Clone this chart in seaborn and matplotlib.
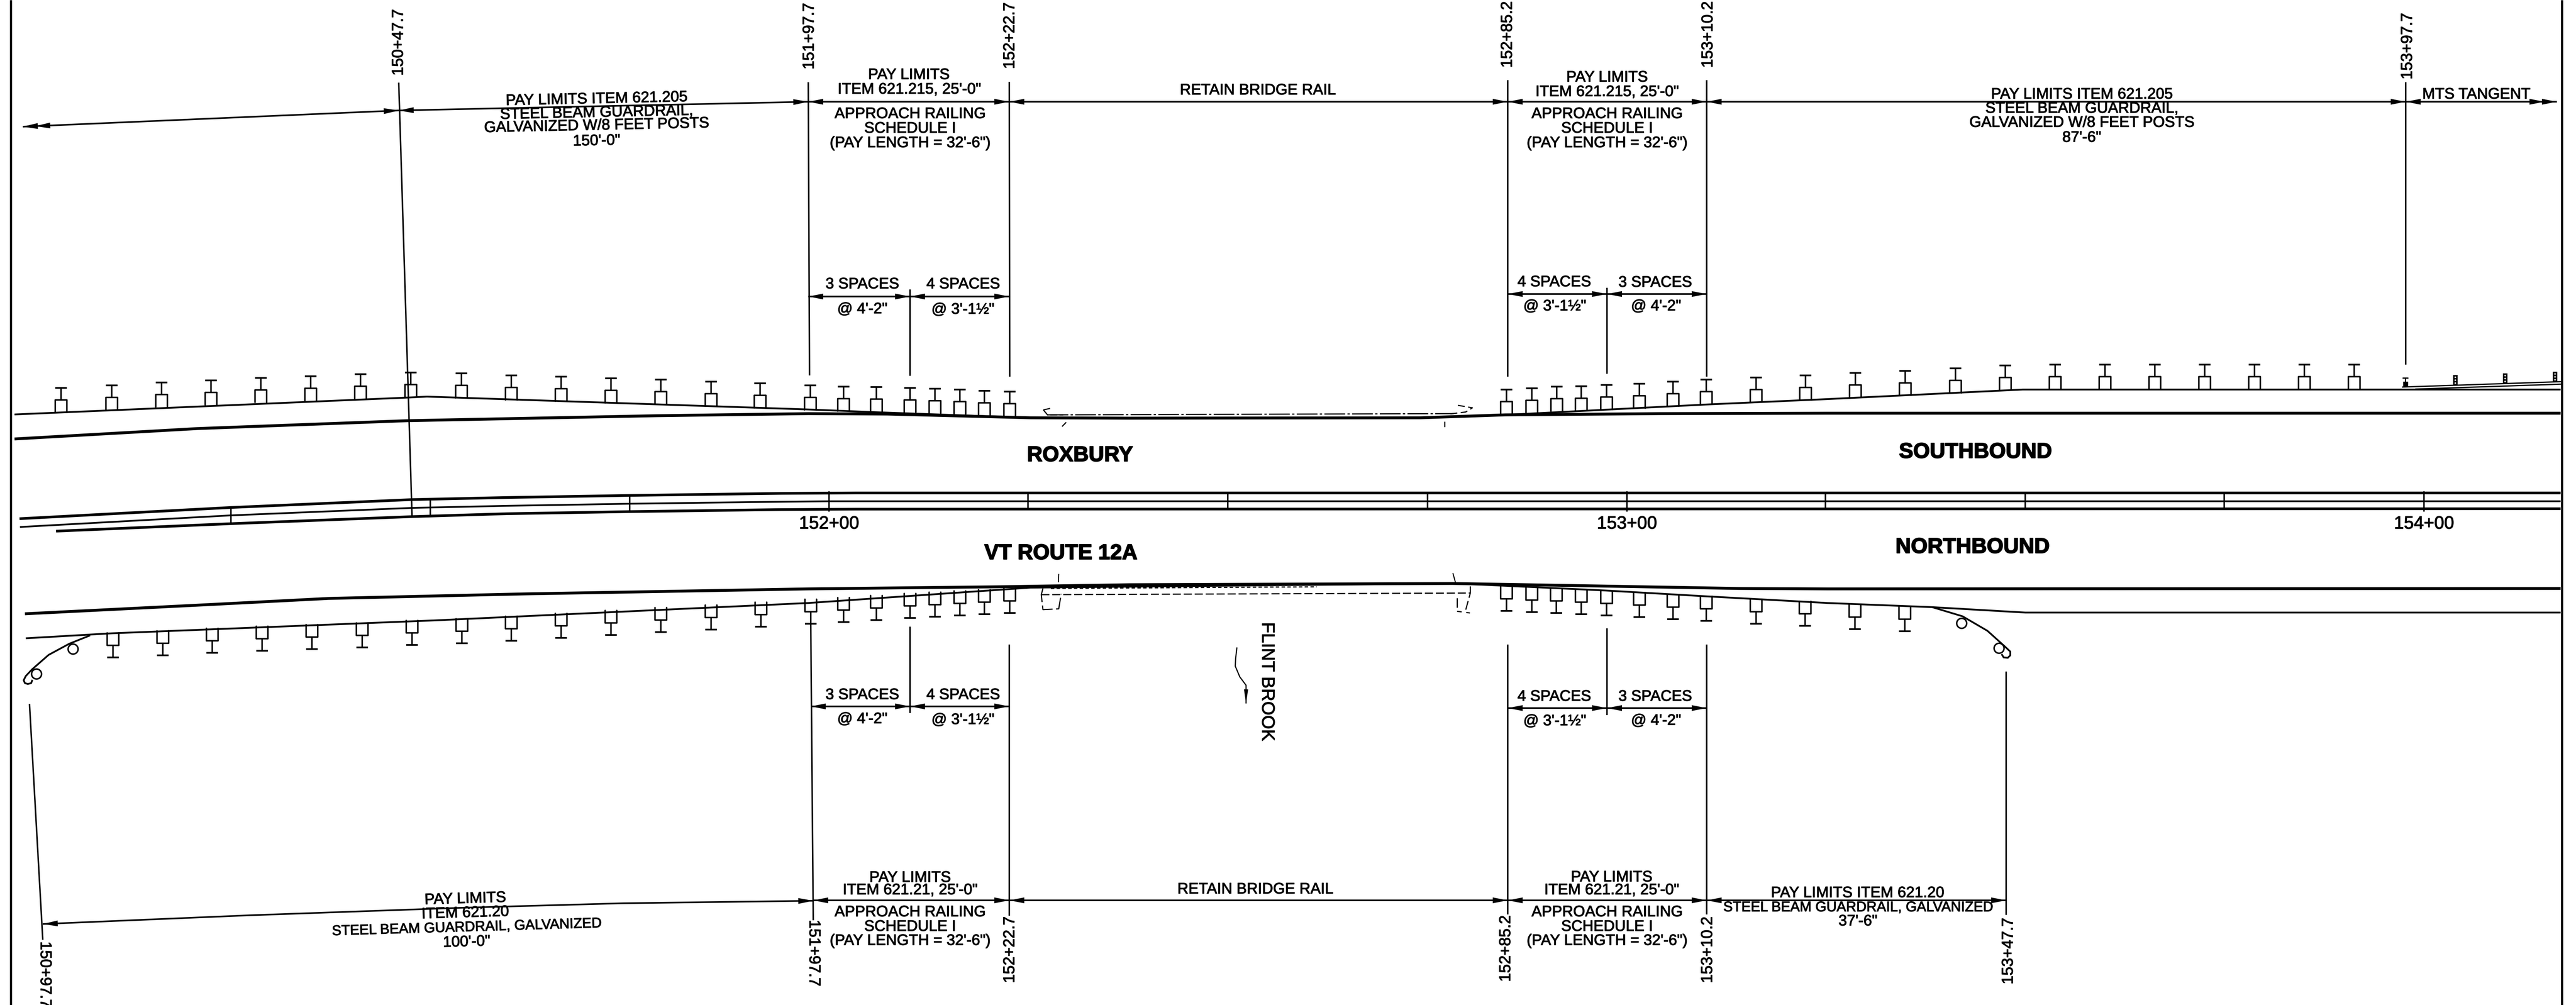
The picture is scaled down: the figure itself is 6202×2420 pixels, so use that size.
import numpy as np
import matplotlib
matplotlib.use("Agg")
import matplotlib.pyplot as plt
import matplotlib.patheffects as pe
from matplotlib.patches import Circle
import seaborn as sns

sns.set_theme(style="white")
plt.rcParams["font.family"] = ["Liberation Sans", "DejaVu Sans"]
NARROW = ["Liberation Sans Narrow", "Liberation Sans", "DejaVu Sans"]

# ---- road lines (sheet pixels) -------------------------------------------
sb_edge_x = [35, 475, 981, 1582, 1946, 2136, 2481, 2719, 3420, 3624, 3994, 4400, 6165]
sb_edge_y = [1057, 1032, 1013, 1001, 996, 997, 1006, 1007, 1006, 999, 996, 995, 995]
sb_rail_x = [35, 989, 1028, 1946, 2120, 2481, 3420, 3624, 4109, 4400, 4870, 6165]
sb_rail_y = [998, 957, 955, 986, 993, 1006, 1006, 999, 974, 961, 938, 938]
nb_edge_x = [60, 500, 791, 1266, 1946, 2400, 2719, 3497, 3675, 4186, 4400, 6165]
nb_edge_y = [1478, 1456, 1441, 1430, 1418, 1413, 1408, 1405, 1408, 1417, 1418, 1417]
nb_rail_x = [62, 269, 1044, 1946, 2481, 3497, 3548, 3867, 4109, 4400, 4652, 4876, 6165]
nb_rail_y = [1537, 1525, 1494, 1452, 1415, 1405, 1407, 1422, 1436, 1452, 1462, 1475, 1475]
cl_up_x = [47, 556, 992, 1220, 1514, 1881, 2061, 6165]
cl_up_y = [1249, 1222, 1203, 1198, 1193, 1188, 1187, 1187]
cl_mid_x = [48, 556, 992, 1220, 1514, 1812, 1996, 6165]
cl_mid_y = [1269, 1241, 1223, 1218, 1213, 1209, 1207, 1207]
cl_lo_x = [135, 556, 992, 1220, 1514, 1881, 2061, 6165]
cl_lo_y = [1279, 1261, 1244, 1237, 1232, 1227, 1226, 1225]
minor_ticks = [556, 1036, 1516, 2475, 2956, 3437, 4395, 4876, 5355]
major_ticks = [1996, 3917, 5836]
minor_top = [1222, 1201, 1193, 1187, 1187, 1187, 1187, 1187, 1187]
minor_bot = [1261, 1241, 1232, 1226, 1226, 1226, 1226, 1226, 1226]
major_names = ["152+00", "153+00", "154+00"]
major_label_y = [1262, 1262, 1262]

# ---- guardrail posts ------------------------------------------------------
sb_post_x = [147, 269, 389, 508, 628, 748, 868, 989, 1111, 1231, 1351, 1471, 1591, 1712, 1830, 1951, 2031,
             2110, 2191, 2251, 2311, 2370, 2431, 3627, 3688, 3748, 3807, 3868, 3947, 4028, 4108, 4228, 4347,
             4467, 4587, 4708, 4828, 4948, 5068, 5188, 5308, 5428, 5548, 5668]
sb_post_top = [934, 928, 921, 916, 910, 906, 901, 897, 899, 904, 907, 911, 914, 919, 923, 928, 931,
               932, 934, 936, 938, 941, 943, 938, 935, 931, 930, 927, 924, 919, 914, 909, 904,
               898, 893, 887, 880, 878, 878, 878, 878, 878, 878, 878]
nb_post_x = [272, 392, 511, 631, 751, 872, 992, 1112, 1231, 1351, 1471, 1591, 1712, 1832, 1952, 2031, 2110,
             2191, 2251, 2311, 2370, 2431, 3627, 3688, 3747, 3807, 3868, 3947, 4028, 4108, 4228, 4346,
             4466, 4586]
nb_post_bot = [1583, 1578, 1572, 1567, 1563, 1559, 1553, 1549, 1543, 1536, 1529, 1522, 1516, 1509, 1502, 1498, 1493,
               1488, 1485, 1482, 1479, 1476, 1471, 1474, 1476, 1479, 1482, 1486, 1491, 1495, 1502, 1507,
               1515, 1520]

# ---- terminals, bridge outline, brook -------------------------------------
term_l_x = [217, 167, 117, 77, 62, 57, 60, 67, 75, 78]
term_l_y = [1530, 1550, 1577, 1612, 1628, 1638, 1645, 1647, 1645, 1637]
term_r_x = [4652, 4725, 4785, 4825, 4840, 4840, 4834, 4824, 4819]
term_r_y = [1462, 1484, 1519, 1555, 1569, 1578, 1584, 1583, 1575]
term_circ_x = [176, 88, 4723, 4813]
term_circ_y = [1563, 1623, 1501, 1561]
brook_x = [2978, 2975, 2974, 2985, 3000, 3000]
brook_y = [1559, 1585, 1604, 1630, 1650, 1694]
mts_post_x = [5906, 6026, 6146]
mts_post_y = [903, 899, 895]

# ---- station / extension lines: x0, y0, x1, y1 ----------------------------
ext_x0 = [960, 1946, 2430, 2191, 3630, 4109, 3869, 5792, 71, 1952, 2191, 2430, 3630, 4109, 3869, 4830]
ext_y0 = [199, 198, 197, 697, 193, 193, 693, 198, 1695, 1502, 1509, 1552, 1552, 1552, 1513, 1617]
ext_x1 = [992, 1949, 2431, 2191, 3630, 4109, 3869, 5792, 103, 1958, 2191, 2430, 3630, 4109, 3869, 4830]
ext_y1 = [1242, 904, 907, 905, 907, 907, 900, 878, 2263, 2216, 1717, 2205, 2202, 2202, 1722, 2203]

st_names = ["150+47.7", "151+97.7", "152+22.7", "152+85.2", "153+10.2", "153+97.7",
            "150+97.7", "151+97.7", "152+22.7", "152+85.2", "153+10.2", "153+47.7"]
st_x = [960, 1949, 2432, 3630, 4113, 5797, 108, 1959, 2432, 3626, 4112, 4836]
st_y = [102, 87, 86, 83, 83, 111, 2347, 2295, 2287, 2284, 2287, 2290]
st_rot = [90, 90, 90, 90, 90, 90, -90, -90, 90, 90, 90, 90]

# ---- dimension arrows: x0, y0, x1, y1, heads at start, heads at end -------
dim_x0 = [55, 960, 1946, 2430, 3630, 4109, 5792, 1946, 2191, 3630, 3869,
          1958, 2430, 3630, 4109, 1952, 2191, 3630, 3869]
dim_y0 = [305, 266, 245, 245, 245, 245, 245, 714, 714, 708, 708,
          2168, 2168, 2168, 2168, 1701, 1701, 1705, 1705]
dim_x1 = [960, 1946, 2430, 3630, 4109, 5792, 6156, 2191, 2430, 3869, 4109,
          2430, 3630, 4109, 4830, 2191, 2430, 3869, 4109]
dim_y1 = [266, 245, 245, 245, 245, 245, 245, 714, 714, 708, 708,
          2168, 2168, 2168, 2168, 1701, 1701, 1705, 1705]
dim_h0 = [2, 1, 1, 1, 1, 1, 1, 1, 1, 1, 1, 1, 1, 1, 1, 1, 1, 1, 1]
dim_h1 = [1, 1, 1, 1, 1, 1, 2, 1, 1, 1, 1, 1, 1, 1, 1, 1, 1, 1, 1]
curve_dim_x = [103, 600, 1107, 1500, 1958]
curve_dim_y = [2225, 2204, 2186, 2175, 2169]

# ---- notes ----------------------------------------------------------------
note_text = [
    "PAY LIMITS ITEM 621.205", "STEEL BEAM GUARDRAIL,", "GALVANIZED W/8 FEET POSTS", "150'-0\"",
    "PAY LIMITS", "ITEM 621.215, 25'-0\"", "APPROACH RAILING", "SCHEDULE I", "(PAY LENGTH = 32'-6\")",
    "RETAIN BRIDGE RAIL",
    "PAY LIMITS", "ITEM 621.215, 25'-0\"", "APPROACH RAILING", "SCHEDULE I", "(PAY LENGTH = 32'-6\")",
    "PAY LIMITS ITEM 621.205", "STEEL BEAM GUARDRAIL,", "GALVANIZED W/8 FEET POSTS", "87'-6\"",
    "MTS TANGENT",
    "3 SPACES", "4 SPACES", "@ 4'-2\"", "@ 3'-1½\"", "4 SPACES", "3 SPACES", "@ 3'-1½\"", "@ 4'-2\"",
    "3 SPACES", "4 SPACES", "@ 4'-2\"", "@ 3'-1½\"", "4 SPACES", "3 SPACES", "@ 3'-1½\"", "@ 4'-2\"",
    "PAY LIMITS", "ITEM 621.20", "STEEL BEAM GUARDRAIL, GALVANIZED", "100'-0\"",
    "PAY LIMITS", "ITEM 621.21, 25'-0\"", "APPROACH RAILING", "SCHEDULE I", "(PAY LENGTH = 32'-6\")",
    "RETAIN BRIDGE RAIL",
    "PAY LIMITS", "ITEM 621.21, 25'-0\"", "APPROACH RAILING", "SCHEDULE I", "(PAY LENGTH = 32'-6\")",
    "PAY LIMITS ITEM 621.20", "STEEL BEAM GUARDRAIL, GALVANIZED", "37'-6\"",
]
note_x = [1436, 1436, 1436, 1436,
          2188, 2189, 2191, 2191, 2191,
          3028,
          3869, 3869, 3869, 3869, 3869,
          5012, 5012, 5012, 5012,
          5962,
          2076, 2319, 2076, 2318, 3742, 3985, 3743, 3987,
          2076, 2319, 2076, 2318, 3742, 3985, 3743, 3987,
          1120, 1120, 1123, 1123,
          2191, 2191, 2191, 2191, 2191,
          3022,
          3880, 3880, 3869, 3869, 3869,
          4472, 4473, 4473]
note_y = [239, 272, 303, 340,
          181, 216, 275, 310, 345,
          218,
          187, 222, 275, 310, 345,
          228, 262, 296, 332,
          228,
          685, 685, 745, 746, 680, 681, 738, 738,
          1674, 1674, 1732, 1734, 1678, 1678, 1737, 1736,
          2165, 2199, 2234, 2269,
          2114, 2144, 2197, 2232, 2266,
          2142,
          2113, 2144, 2197, 2232, 2266,
          2151, 2186, 2219]
note_rot = [1.2, 1.2, 1.2, 1.2] + [0] * 32 + [1.7, 1.7, 1.7, 1.7] + [0] * 14

bold_text = ["ROXBURY", "SOUTHBOUND", "VT ROUTE 12A", "NORTHBOUND"]
bold_x = [2600, 4756, 2554, 4749]
bold_y = [1097, 1089, 1333, 1318]

# ---------------------------------------------------------------------------
fig = plt.figure(figsize=(62.02, 24.2), dpi=100, facecolor="white")
ax = fig.add_axes([0, 0, 1, 1])
ax.set_xlim(0, 6202)
ax.set_ylim(2420, 0)
ax.axis("off")

THIN = 2.6
K = "black"
STROKE = [pe.withStroke(linewidth=0.9, foreground=K)]


def road(x, y, lw):
    sns.lineplot(x=x, y=y, sort=False, estimator=None, errorbar=None, color=K,
                 linewidth=lw, ax=ax, legend=False, solid_capstyle="butt")


def seg(x0, y0, x1, y1, lw=THIN, **kw):
    ax.plot([x0, x1], [y0, y1], color=K, lw=lw, solid_capstyle="butt", **kw)


def head(x, y, dx, dy, L=36, W=7):
    n = np.hypot(dx, dy)
    ux, uy = dx / n, dy / n
    ax.fill([x, x + L * ux - W * uy, x + L * ux + W * uy],
            [y, y + L * uy + W * ux, y + L * uy - W * ux], color=K, lw=0)


# frame
seg(26, 0, 26, 2420, lw=3.8)
seg(6168, 0, 6168, 2420, lw=3.8)

# roads
road(sb_edge_x, sb_edge_y, 5.0)
road(sb_rail_x, sb_rail_y, 3.1)
road(nb_edge_x, nb_edge_y, 5.0)
road(nb_rail_x, nb_rail_y, 3.1)
road(cl_up_x, cl_up_y, 4.6)
road(cl_mid_x, cl_mid_y, 3.0)
road(cl_lo_x, cl_lo_y, 4.6)
for x, a, b in zip(minor_ticks, minor_top, minor_bot):
    seg(x, a, x, b)
for x in major_ticks:
    seg(x, 1183, x, 1232)

# posts
for x, t in zip(sb_post_x, sb_post_top):
    seg(x - 14, t, x + 14, t, lw=3.0)
    seg(x, t, x, t + 29)
    ax.plot([x - 14, x - 14, x + 14, x + 14], [t + 59, t + 29, t + 29, t + 59], color=K, lw=THIN)
for x, b in zip(nb_post_x, nb_post_bot):
    seg(x - 14, b, x + 14, b, lw=3.0)
    seg(x, b, x, b - 29)
    ax.plot([x - 14, x - 14, x + 14, x + 14], [b - 59, b - 29, b - 29, b - 59], color=K, lw=THIN)

# end terminals
road(term_l_x, term_l_y, 3.0)
road(term_r_x, term_r_y, 3.0)
for x, y in zip(term_circ_x, term_circ_y):
    ax.add_patch(Circle((x, y), 12, fill=False, edgecolor=K, lw=THIN))

# MTS section
seg(5783, 932, 6167, 919, lw=2.2)
seg(5815, 937, 6167, 925, lw=2.2)
seg(5784, 910, 5798, 910, lw=2.2)
seg(5791, 910, 5791, 920, lw=2.2)
ax.fill([5786, 5798, 5798, 5786], [919, 919, 932, 932], color=K, lw=0)
for x, t in zip(mts_post_x, mts_post_y):
    ax.fill([x, x + 11, x + 11, x], [t, t, t + 24, t + 24], color=K, lw=0)
    ax.plot([x + 5.5] * 3, [t + 5, t + 12, t + 19], ls="", marker="o", ms=1.8, color="white")

# bridge outlines
ax.plot([2522, 3500], [999, 996], color=K, lw=2.0, dashes=(18, 2, 2, 2))
ax.plot([2512, 2522, 2560], [987, 999, 999], color=K, lw=2.0, dashes=(6, 2))
seg(2512, 987, 2535, 982, lw=2.0, dashes=(6, 4))
ax.plot([3510, 3545, 3529, 3490], [976, 982, 992, 997], color=K, lw=2.0, dashes=(6, 3))
seg(2557, 1027, 2567, 1017, lw=2.0)
seg(3478, 1015, 3478, 1028, lw=2.0)
ax.plot([2507, 3540], [1432, 1428], color=K, lw=2.0, dashes=(7, 2.5))
ax.plot([2530, 3170], [1417, 1413], color=K, lw=2.0, dashes=(3, 2))
ax.plot([2511, 2507, 2511, 2549, 2555], [1417, 1432, 1468, 1466, 1430], color=K, lw=2.0, dashes=(12, 3))
seg(2549, 1382, 2548, 1407, lw=1.8, dashes=(8, 3))
ax.plot([3540, 3540, 3529], [1412, 1428, 1468], color=K, lw=2.0, dashes=(10, 3))
seg(3508, 1440, 3508, 1463, lw=2.0)
seg(3508, 1472, 3539, 1476, lw=2.0, dashes=(4, 4))
seg(3498, 1380, 3504, 1402, lw=1.8)

# brook arrow
road(brook_x, brook_y, 2.0)
head(3000, 1694, 0, -1, L=34, W=5)

# extension lines
for a, b, c, d in zip(ext_x0, ext_y0, ext_x1, ext_y1):
    seg(a, b, c, d)

# dimensions
for a, b, c, d, h0, h1 in zip(dim_x0, dim_y0, dim_x1, dim_y1, dim_h0, dim_h1):
    seg(a, b, c, d, lw=2.8)
    for k in range(h0):
        head(a + k * 30 * np.sign(c - a), b + k * 30 * (d - b) / abs(c - a), c - a, d - b)
    for k in range(h1):
        head(c - k * 30 * np.sign(c - a), d - k * 30 * (d - b) / abs(c - a), a - c, b - d)
road(curve_dim_x, curve_dim_y, 2.8)
head(curve_dim_x[0], curve_dim_y[0], curve_dim_x[1] - curve_dim_x[0], curve_dim_y[1] - curve_dim_y[0])
head(curve_dim_x[-1], curve_dim_y[-1], curve_dim_x[-2] - curve_dim_x[-1], curve_dim_y[-2] - curve_dim_y[-1])

# text
for s, x, y, r in zip(note_text, note_x, note_y, note_rot):
    size = 24.5 if s.endswith("GUARDRAIL, GALVANIZED") else 26.5
    ax.text(x, y, s, ha="center", va="center", rotation=r, rotation_mode="anchor",
            fontsize=size, color=K, path_effects=STROKE)
for s, x, y in zip(major_names, major_ticks, major_label_y):
    ax.text(x, y, s, ha="center", va="center", fontsize=31, color=K, path_effects=STROKE)
for s, x, y, r in zip(st_names, st_x, st_y, st_rot):
    ax.text(x, y, s, ha="center", va="center", rotation=r, fontsize=27.5, color=K,
            family=NARROW, path_effects=STROKE)
for s, x, y in zip(bold_text, bold_x, bold_y):
    ax.text(x, y, s, ha="center", va="center", fontsize=37, fontweight="bold", color=K,
            path_effects=[pe.withStroke(linewidth=1.6, foreground=K)])
ax.text(3050, 1641, "FLINT BROOK", ha="center", va="center", rotation=-90, fontsize=31, color=K,
        path_effects=STROKE)

fig.savefig("out.png", dpi=100, facecolor="white")
